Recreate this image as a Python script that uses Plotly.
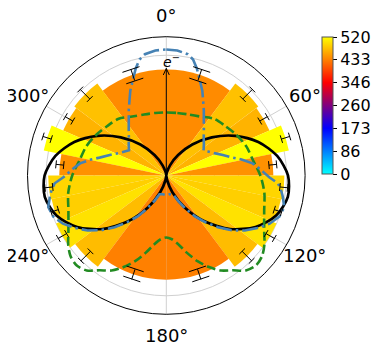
import math
import plotly.graph_objects as go

# ---------------- data ----------------
# bin edges (deg, equal steps in cos(theta)), right half; left half is mirrored
bin_edges = [0, 36.87, 53.13, 66.42, 78.46, 90, 101.54, 113.58, 126.87, 143.13, 180]
bar_values = [441, 478, 468, 520, 445, 491, 487, 500, 474, 433]
bar_errors = [25, 28, 18, 18, 16, 16, 16, 20, 28, 22]

black_theta = [0, 10, 20, 30, 40, 50, 60, 70, 80, 90, 100, 110, 120, 130, 140, 150, 160, 170, 180]
black_r = [0, 12, 45, 98, 168, 247, 330, 407, 468, 506, 513, 486, 428, 346, 250, 155, 74, 20, 0]

blue_theta = [0, 5, 10, 13, 16, 19, 23, 26, 30, 35, 40, 45, 50, 56, 60, 65, 70, 75, 78, 82,
              85, 88, 91, 94, 97, 100, 105, 110, 115, 120, 125, 130, 135, 140, 145, 150, 155, 160, 170, 180]
blue_r = [524, 522, 512, 495, 462, 424, 383, 349, 312, 272, 243, 220, 204, 187, 200, 220, 250, 287, 320, 362,
          383, 404, 428, 465, 480, 491, 508, 500, 474, 437, 399, 354, 304, 254, 208, 158, 116, 83, 79, 83]

green_theta = [0, 10, 20, 30, 40, 50, 60, 70, 80, 90, 100, 110, 120, 125, 130, 135, 140, 145, 150, 155,
               160, 165, 170, 175, 180]
green_r = [262, 264, 270, 283, 308, 320, 337, 354, 366, 391, 414, 433, 470, 498, 520, 528, 515, 481, 456, 420,
           379, 333, 291, 266, 258]

cbar_ticks = [0, 86.67, 173.33, 260, 346.67, 433.33, 520]
cbar_labels = ["0", "86", "173", "260", "346", "433", "520"]
angle_ticks = [0, 60, 120, 180, 240, 300]
arrow_value = 445

# ---------------- geometry ----------------
OFF = 8                      # page body margin of the html page
W, H = 382 - OFF, 350 - OFF  # figure size so the page fits the window
cx, cy, R = 166.3 - OFF, 175.5 - OFF, 138.8
RMAX = 577.0
px_per_unit = R / RMAX
LABEL_R = 160

def mirror(theta, r):
    t = list(theta) + [360 - a for a in reversed(theta[:-1])]
    v = list(r) + list(reversed(r[:-1]))
    return t, v

def px(x, y):
    return x / W, 1 - y / H

centers = [(a + b) / 2 for a, b in zip(bin_edges[:-1], bin_edges[1:])]
widths = [b - a for a, b in zip(bin_edges[:-1], bin_edges[1:])]
bar_theta = centers + [360 - c for c in centers]
bar_width = widths + widths
bar_r = bar_values + bar_values
bar_e = bar_errors + bar_errors

colorscale = [
    [0.0, "#00ffff"],
    [1 / 3, "#0000ff"],
    [0.5, "#800080"],
    [2 / 3, "#ff0000"],
    [5 / 6, "#ff8000"],
    [1.0, "#ffff00"],
]

cb_left, cb_top, cb_bot = 322 - OFF, 37 - OFF, 174 - OFF

fig = go.Figure()

fig.add_trace(go.Barpolar(
    r=bar_r, theta=bar_theta, width=bar_width,
    marker=dict(
        color=bar_r, colorscale=colorscale, cmin=0, cmax=520,
        line=dict(width=0),
        colorbar=dict(
            x=cb_left / W, xanchor="left", xpad=0, ypad=0,
            y=1 - (cb_top + cb_bot) / 2 / H, yanchor="middle",
            len=(cb_bot - cb_top) / H, lenmode="fraction", thickness=11,
            outlinecolor="#555555", outlinewidth=1,
            tickvals=cbar_ticks, ticktext=cbar_labels,
            ticks="outside", ticklen=4, tickcolor="black",
            tickfont=dict(size=16, color="black", family="DejaVu Sans"),
        ),
    ),
    showlegend=False,
))

bt, br = mirror(black_theta, black_r)
fig.add_trace(go.Scatterpolar(r=br, theta=bt, mode="lines",
                              line=dict(color="black", width=2.7, shape="spline", smoothing=0.8),
                              showlegend=False))
gt, gr = mirror(green_theta, green_r)
fig.add_trace(go.Scatterpolar(r=gr, theta=gt, mode="lines",
                              line=dict(color="#228b22", width=2.6, dash="9px,4px", shape="spline", smoothing=0.8),
                              showlegend=False))
ut, ur = mirror(blue_theta, blue_r)
fig.add_trace(go.Scatterpolar(r=ur, theta=ut, mode="lines",
                              line=dict(color="#4682b4", width=2.6, dash="16px,4px,2.5px,4px"),
                              showlegend=False))

# error bars with tangential caps
er, et = [], []
for i, (t, v, e) in enumerate(zip(bar_theta, bar_r, bar_e)):
    wide = (i % 10) in (0, 9)
    cap_px = 9 if wide else 4
    for rr in (v - e, v + e):
        d = cap_px / (rr * px_per_unit) * 57.2958
        er += [rr, rr, None]
        et += [t - d, t + d, None]
    er += [v - e, v + e, None]
    et += [t, t, None]
fig.add_trace(go.Scatterpolar(r=er, theta=et, mode="lines",
                              line=dict(color="black", width=1), showlegend=False))

fig.update_layout(
    width=W, height=H,
    margin=dict(l=0, r=0, t=0, b=0, autoexpand=False),
    paper_bgcolor="white", plot_bgcolor="white",
    font=dict(family="DejaVu Sans", color="black"),
    polar=dict(
        domain=dict(x=[(cx - R) / W, (cx + R) / W], y=[1 - (cy + R) / H, 1 - (cy - R) / H]),
        bgcolor="white",
        angularaxis=dict(
            rotation=90, direction="clockwise",
            tickvals=angle_ticks, showticklabels=False, ticks="",
            showline=True, linecolor="black", linewidth=1,
            gridcolor="#d0d0d0", gridwidth=1, layer="above traces",
        ),
        radialaxis=dict(
            range=[0, RMAX], tickvals=[100, 200, 300, 400, 500],
            showticklabels=False, ticks="", showline=False,
            gridcolor="#d0d0d0", gridwidth=1, layer="above traces",
        ),
        bargap=0,
    ),
)

# angular tick labels, centred around the circle like the reference
for a in angle_ticks:
    rad = math.radians(a)
    tx, ty = px(cx + LABEL_R * math.sin(rad), cy - LABEL_R * math.cos(rad))
    fig.add_annotation(x=tx, y=ty, xref="paper", yref="paper", text=f"{a}°",
                       showarrow=False, xanchor="center", yanchor="middle",
                       font=dict(size=18, color="black", family="DejaVu Sans"))

# arrow along 0 deg (shapes) and e- label
tip_px = cy - arrow_value * px_per_unit
x0, y0 = px(cx, cy)
x1, y1 = px(cx, tip_px)
fig.add_shape(type="line", xref="paper", yref="paper", x0=x0, y0=y0, x1=x1, y1=y1,
              line=dict(color="black", width=1))
hl, hw = 6.5, 3.0
xa, ya = px(cx - hw, tip_px + hl)
xb, yb = px(cx + hw, tip_px + hl)
fig.add_shape(type="path", xref="paper", yref="paper",
              path=f"M {xa},{ya} L {x1},{y1} L {xb},{yb}",
              line=dict(color="black", width=1))
lx, ly = px(cx + 5.5, tip_px - 7)
fig.add_annotation(x=lx, y=ly, xref="paper", yref="paper",
                   text="<i>e</i><sup>−</sup>", showarrow=False,
                   xanchor="center", yanchor="middle",
                   font=dict(size=14, color="black", family="DejaVu Sans"))

fig.write_html("out.html")
